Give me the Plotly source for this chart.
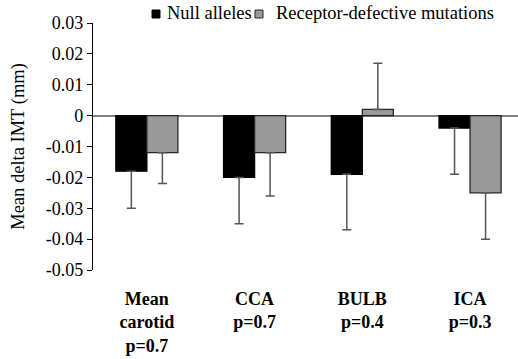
import plotly.graph_objects as go

categories = ["<b>Mean</b><br><b>carotid</b><br><b>p=0.7</b>", "<b>CCA</b><br><b>p=0.7</b>",
              "<b>BULB</b><br><b>p=0.4</b>", "<b>ICA</b><br><b>p=0.3</b>"]
series_names = ["Null alleles", "Receptor-defective mutations"]
null_vals = [-0.018, -0.020, -0.019, -0.004]
null_err = [0.012, 0.015, 0.018, 0.015]
rec_vals = [-0.012, -0.012, 0.002, -0.025]
rec_err = [0.010, 0.014, 0.015, 0.015]
y_ticks = [0.03, 0.02, 0.01, 0, -0.01, -0.02, -0.03, -0.04, -0.05]

FONT = "Liberation Serif"
FILLS = ["#000000", "#999999"]
EDGES = ["#000000", "#262626"]


def split_err(vals, errs):
    plus = [e if v > 0 else 0 for v, e in zip(vals, errs)]
    minus = [e if v <= 0 else 0 for v, e in zip(vals, errs)]
    return plus, minus


xs = list(range(len(categories)))
fig = go.Figure()
for name, vals, errs, fill, edge in zip(series_names, [null_vals, rec_vals],
                                        [null_err, rec_err], FILLS, EDGES):
    p, m = split_err(vals, errs)
    fig.add_trace(go.Bar(
        x=xs, y=vals, name=name, showlegend=False,
        marker=dict(color=fill, line=dict(color=edge, width=1.3)),
        error_y=dict(type="data", symmetric=False, array=p, arrayminus=m,
                     color="#555555", thickness=1.5, width=4.5),
    ))

# legend drawn as keys + labels above the plot area (paper coordinates)
L, R, T, B = 93, 0, 23, 89
PW, PH = 518 - L - R, 359 - T - B


def px_x(px):
    return (px - L) / PW


def px_y(py):
    return (359 - B - py) / PH


key_x = [(152, 160), (255, 263)]
text_x = [166, 275]
for (x0, x1), tx, name, fill, edge in zip(key_x, text_x, series_names, FILLS, EDGES):
    fig.add_shape(type="rect", xref="paper", yref="paper",
                  x0=px_x(x0), x1=px_x(x1), y0=px_y(18), y1=px_y(10),
                  fillcolor=fill, line=dict(color=edge, width=1))
    fig.add_annotation(xref="paper", yref="paper", x=px_x(tx), y=px_y(13),
                       xanchor="left", yanchor="middle", text=name, showarrow=False,
                       font=dict(size=18.5), borderpad=0)

fig.update_layout(
    width=518, height=359,
    margin=dict(l=L, r=R, t=T, b=B, autoexpand=False),
    paper_bgcolor="white", plot_bgcolor="white",
    barmode="group", bargap=0.424, bargroupgap=0,
    font=dict(family=FONT, size=18, color="black"),
    showlegend=False,
)
fig.update_xaxes(
    range=[-0.5, 3.445], tickmode="array", tickvals=xs, ticktext=categories,
    showline=False, showgrid=False, zeroline=False, ticks="",
    ticklabelstandoff=16, tickfont=dict(size=18),
)
fig.update_yaxes(
    range=[-0.05, 0.03], tickmode="array", tickvals=y_ticks,
    ticktext=[("%g" % v) for v in y_ticks],
    showline=True, linecolor="#000000", linewidth=1.2,
    ticks="outside", ticklen=5, tickcolor="#000000", tickwidth=1.2,
    showgrid=False, zeroline=True, zerolinecolor="#808080", zerolinewidth=1.5,
    title=dict(text="Mean delta IMT (mm)", font=dict(size=18.5), standoff=16),
    tickfont=dict(size=18),
)

fig.write_html("out.html")
